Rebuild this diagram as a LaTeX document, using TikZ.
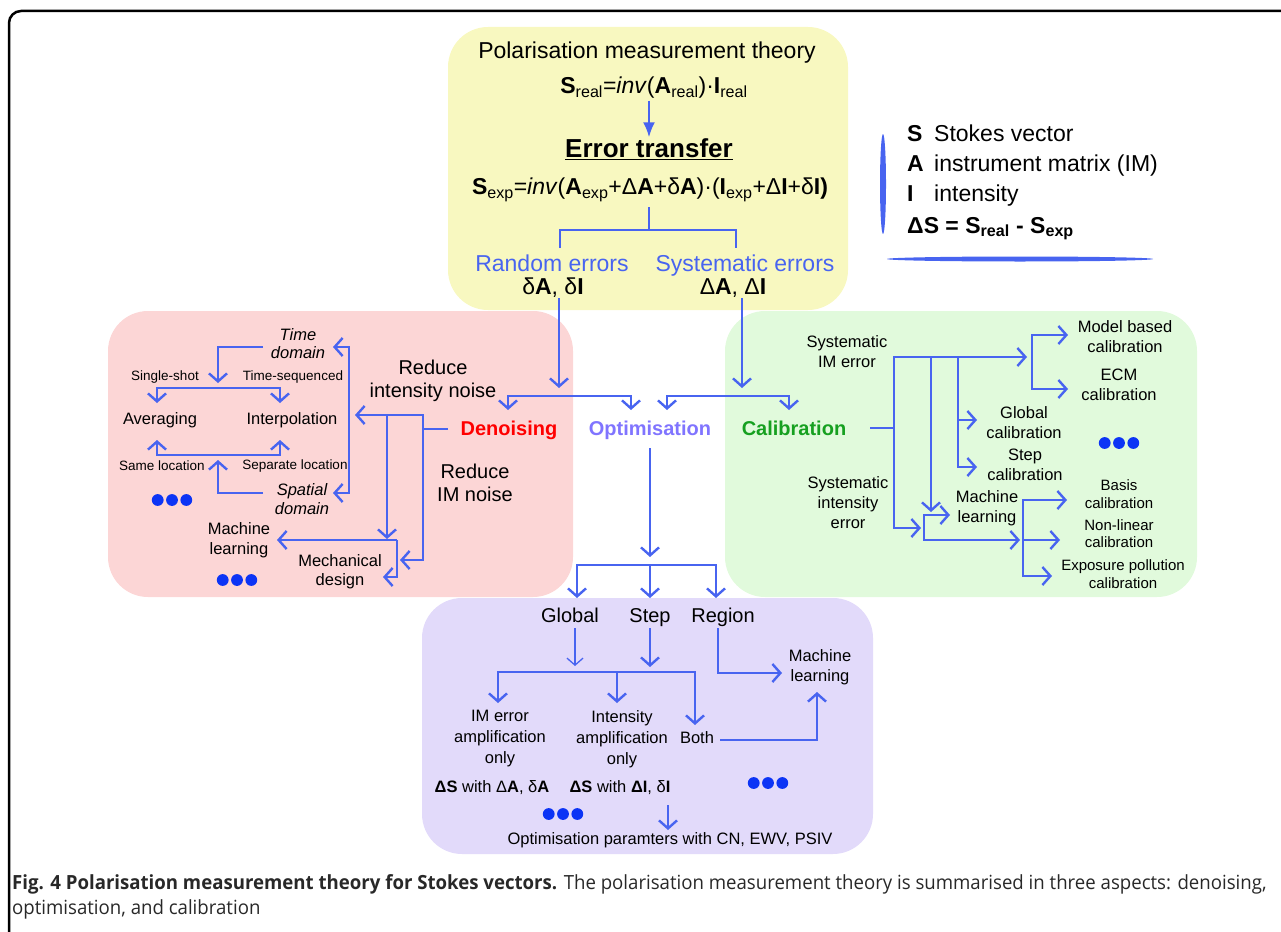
\documentclass[tikz,border=0pt]{standalone}
\usepackage{fontspec}
\setmainfont{Liberation Sans}
\newfontfamily\capfont[FakeStretch=0.955]{Open Sans}
\usetikzlibrary{arrows.meta,positioning}

\definecolor{lineblue}{RGB}{72,100,240}
\definecolor{dotblue}{RGB}{12,52,245}
\definecolor{optpurple}{RGB}{128,116,255}
\definecolor{calgreen}{RGB}{22,160,32}
\definecolor{boxyellow}{RGB}{248,248,192}
\definecolor{boxred}{RGB}{252,214,214}
\definecolor{boxgreen}{RGB}{225,250,220}
\definecolor{boxpurple}{RGB}{226,218,250}
\definecolor{captext}{RGB}{40,40,40}

\tikzset{
  conn/.style={draw=lineblue, line width=2.4pt, -{Straight Barb[length=8pt,width=18pt]}},
  thinconn/.style={draw=lineblue, line width=1.3pt, -{Straight Barb[length=7pt,width=16pt]}},
  plain/.style={draw=lineblue, line width=2.4pt},
  panel/.style={rounded corners=40pt},
  lbl/.style={align=center, inner sep=0pt, font=\fontsize{16.5}{20}\selectfont},
  smalllbl/.style={align=center, inner sep=0pt, font=\fontsize{13.5}{16}\selectfont},
  callbl/.style={align=center, inner sep=0pt, font=\fontsize{15}{18}\selectfont},
  midlbl/.style={align=center, inner sep=0pt, anchor=base, font=\fontsize{20}{23}\selectfont},
  biglbl/.style={align=center, inner sep=0pt, font=\fontsize{23}{27}\selectfont},
  aspect/.style={inner sep=0pt, anchor=base, font=\bfseries\fontsize{20}{24}\selectfont},
  pics/threedots/.style={code={\foreach \k in {-1,0,1} \fill[dotblue] (\k*14.3,0) circle (5.9pt);}}
}

\begin{document}
\begin{tikzpicture}[x=1pt, y=-1pt]
\useasboundingbox (0,0) rectangle (1281,931);
\draw[line width=2.5pt, rounded corners=12pt] (9,945) -- (9,11) -- (1295,11);

% panels
\fill[boxyellow, panel] (448,27) rectangle (848,310);
\fill[boxred, panel] (108,311) rectangle (573,597);
\fill[boxgreen, panel] (725,311) rectangle (1197,597);
\fill[boxpurple, panel] (422,598) rectangle (873,854);

% theory
\node[biglbl] (theory) at (647,53) {Polarisation measurement theory};
\node[biglbl] (sreal) at (654,88) {\textbf{S}\textsubscript{real}=\textit{inv}(\textbf{A}\textsubscript{real})·\textbf{I}\textsubscript{real}};
\node[inner sep=0pt, font=\bfseries\fontsize{26}{30}\selectfont] (errtrans) at (649,149) {\underline{Error transfer}};
\node[biglbl] (sexp) at (650,190) {\textbf{S}\textsubscript{exp}=\textit{inv}(\textbf{A}\textsubscript{exp}+Δ\textbf{A}+δ\textbf{A})·(\textbf{I}\textsubscript{exp}+Δ\textbf{I}+δ\textbf{I)}};
\node[biglbl, anchor=base, text=lineblue] (randerr) at (552,271) {Random errors};
\node[biglbl, anchor=base, text=lineblue] (syserr) at (745,271) {Systematic errors};
\node[biglbl] (randsym) at (553,288) {δ\textbf{A}, δ\textbf{I}};
\node[biglbl] (syssym) at (733,288) {Δ\textbf{A}, Δ\textbf{I}};

\draw[draw=lineblue, fill=lineblue, line width=2pt, -{Latex[length=15pt,width=12pt]}]
  (sreal.south -| errtrans.north) ++(0,2) -- ([yshift=1pt]errtrans.north);

% legend
\fill[lineblue] (883,184) ellipse (3pt and 50pt);
\fill[lineblue] (1020,259) ellipse (133pt and 2.5pt);
\node[anchor=base west, inner sep=0pt, font=\bfseries\fontsize{23}{27}\selectfont] (symS) at (907,141) {S};
\node[anchor=base west, inner sep=0pt, font=\fontsize{23}{27}\selectfont] (descS) at (934,141) {Stokes vector};
\node[anchor=base west, inner sep=0pt, font=\bfseries\fontsize{23}{27}\selectfont] (symA) at (907,171) {A};
\node[anchor=base west, inner sep=0pt, font=\fontsize{23}{27}\selectfont] (descA) at (934,171) {instrument matrix (IM)};
\node[anchor=base west, inner sep=0pt, font=\bfseries\fontsize{23}{27}\selectfont] (symI) at (907,201) {I};
\node[anchor=base west, inner sep=0pt, font=\fontsize{23}{27}\selectfont] (descI) at (934,201) {intensity};
\node[anchor=base west, inner sep=0pt, font=\bfseries\fontsize{23}{27}\selectfont] (symdS) at (907,233) {ΔS = S\textsubscript{real} - S\textsubscript{exp}};

% error split
\coordinate (eqfoot) at (649,207);
\coordinate (fork) at (649,230);
\coordinate (randleg) at (560,248);
\coordinate (sysleg) at (736,248);
\draw[plain] (eqfoot) -- (fork);
\draw[plain] (randleg) |- (fork) -| (sysleg);

\coordinate (randout) at (559,298);
\coordinate (sysout) at (742,298);
\coordinate (denbar) at (559,396);
\coordinate (calbar) at (742,396);
\draw[conn, shorten >=8pt] (randout) -- (denbar);
\draw[conn, shorten >=8pt] (sysout) -- (calbar);

% three aspects
\node[aspect, text=red] (denoise) at (509,435) {Denoising};
\node[aspect, text=optpurple] (optim) at (650,435) {Optimisation};
\node[aspect, text=calgreen] (calib) at (794,435) {Calibration};
\coordinate (denin) at (508,410);
\coordinate (optinl) at (631,410);
\coordinate (optinr) at (667,410);
\coordinate (calin) at (789,410);
\draw[conn] (denbar) -| (denin);
\draw[conn] (denbar) -| (optinl);
\draw[conn] (calbar) -| (optinr);
\draw[conn] (calbar) -| (calin);

% denoising panel
\node[lbl, font=\itshape\fontsize{16.5}{18}\selectfont] (timedom) at (298,344) {Time\\domain};
\node[smalllbl] (single) at (165,377) {Single-shot};
\node[smalllbl] (timeseq) at (293,377) {Time-sequenced};
\node[lbl] (averaging) at (160,420) {Averaging};
\node[lbl] (interp) at (292,420) {Interpolation};
\node[smalllbl] (sameloc) at (162,466) {Same location};
\node[smalllbl] (seploc) at (295,466) {Separate location};
\node[lbl, font=\itshape\fontsize{16.5}{19}\selectfont] (spacedom) at (302,499) {Spatial\\domain};
\node[lbl] (mlred) at (239,540) {Machine\\learning};
\node[lbl, font=\fontsize{16.5}{19}\selectfont] (mech) at (340,572) {Mechanical\\design};
\node[midlbl, anchor=center] (redint) at (433,381) {Reduce\\intensity noise};
\node[midlbl, anchor=center] (redim) at (475,483) {Reduce\\IM noise};
\pic (reddotsa) at (172,500) {threedots};
\pic (reddotsb) at (237,580) {threedots};

\coordinate (denout) at (448,429);
\coordinate (dentrunk) at (423,429);
\coordinate (tsin) at (355,415);
\coordinate (mechina) at (400,560);
\coordinate (intsplit) at (387,415);
\coordinate (mlsplitred) at (387,540);
\coordinate (mlcorner) at (397,540);
\coordinate (mlredin) at (277,540);
\coordinate (mechinb) at (383,577);
\draw[plain] (denout) -- (dentrunk);
\draw[conn] (dentrunk) |- (tsin);
\draw[conn] (dentrunk) |- (mechina);
\draw[conn] (intsplit) -- ([yshift=1pt]mlsplitred);
\draw[conn] (mlcorner) -- (mlredin);
\draw[conn] (mlcorner) |- (mechinb);

\coordinate (tsbus) at (349,420);
\coordinate (timein) at (333,347);
\coordinate (spacein) at (333,493);
\draw[conn] (tsbus) |- (timein);
\draw[conn] (tsbus) |- (spacein);

\coordinate (timeout) at (263,347);
\coordinate (tdrop) at (218,388);
\coordinate (avgin) at (157,403);
\coordinate (interpin) at (280,403);
\draw[conn, shorten >=5pt] (timeout) -| (tdrop);
\draw[conn] (tdrop) -| (avgin);
\draw[conn] (tdrop) -| (interpin);

\coordinate (spaceout) at (263,493);
\coordinate (sdrop) at (218,455);
\coordinate (avgup) at (157,440);
\coordinate (interpup) at (280,440);
\draw[conn, shorten >=5pt] (spaceout) -| (sdrop);
\draw[conn] (sdrop) -| (avgup);
\draw[conn] (sdrop) -| (interpup);

% calibration panel
\node[lbl] (sysim) at (847,352) {Systematic\\IM error};
\node[lbl] (sysint) at (848,503) {Systematic\\intensity\\error};
\node[lbl] (modelcal) at (1125,337) {Model based\\calibration};
\node[lbl] (ecmcal) at (1119,385) {ECM\\calibration};
\node[lbl] (globcal) at (1024,423) {Global\\calibration};
\node[lbl] (stepcal) at (1025,465) {Step\\calibration};
\node[lbl] (mlgreen) at (987,508) {Machine\\learning};
\node[callbl] (basiscal) at (1119,494) {Basis\\calibration};
\node[callbl, font=\fontsize{15}{17}\selectfont] (nonlincal) at (1119,534) {Non-linear\\calibration};
\node[callbl] (expcal) at (1123,574) {Exposure pollution\\calibration};
\pic (greendots) at (1119,443) {threedots};

\coordinate (calout) at (870,428);
\coordinate (caltrunk) at (894,428);
\coordinate (modelbus) at (1027,357);
\coordinate (mlboxin) at (921,528);
\coordinate (mlsplit) at (931,357);
\coordinate (mlsplitin) at (931,512);
\coordinate (globsplit) at (958,357);
\coordinate (globin) at (977,420);
\coordinate (stepcin) at (977,467);
\draw[plain] (calout) -- (caltrunk);
\draw[conn] (caltrunk) |- (modelbus);
\draw[conn] (caltrunk) |- (mlboxin);
\draw[conn] (mlsplit) -- (mlsplitin);
\draw[conn] (globsplit) |- (globin);
\draw[conn] (globsplit) |- (stepcin);

\coordinate (modelmid) at (1032,357);
\coordinate (modelin) at (1068,335);
\coordinate (ecmin) at (1068,389);
\draw[conn] (modelmid) |- (modelin);
\draw[conn] (modelmid) |- (ecmin);

\coordinate (mlbox) at (924,528);
\coordinate (mlgreenin) at (950,515);
\coordinate (basisbus) at (1020,540);
\draw[conn] (mlbox) |- (mlgreenin);
\draw[conn] (mlbox) |- (basisbus);

\coordinate (basismid) at (1023,540);
\coordinate (basisin) at (1067,500);
\coordinate (nonlinin) at (1060,540);
\coordinate (expin) at (1052,576);
\draw[conn] (basismid) |- (basisin);
\draw[conn] (basismid) -- (nonlinin);
\draw[conn] (basismid) |- (expin);

% optimisation panel
\coordinate (optfoot) at (650,448);
\coordinate (optbar) at (650,565);
\coordinate (glbin) at (577,598);
\coordinate (stepin) at (650,598);
\coordinate (regin) at (716,598);
\draw[conn, shorten >=8pt] (optfoot) -- (optbar);
\draw[conn] (optbar) -| (glbin);
\draw[conn] (optbar) -- (stepin);
\draw[conn] (optbar) -| (regin);

\node[midlbl] (global) at (570,622) {Global};
\node[midlbl] (step) at (650,622) {Step};
\node[midlbl] (region) at (723,622) {Region};
\node[lbl] (mlpurple) at (820,667) {Machine\\learning};
\node[lbl, font=\fontsize{16.5}{21}\selectfont] (imonly) at (500,739) {IM error\\amplification\\only};
\node[lbl, font=\fontsize{16.5}{21}\selectfont] (intonly) at (622,739) {Intensity\\amplification\\only};
\node[lbl] (both) at (697,738) {Both};
\node[lbl] (dsa) at (492,788) {\textbf{ΔS} with Δ\textbf{A}, δ\textbf{A}};
\node[lbl] (dsi) at (620,788) {\textbf{ΔS} with \textbf{ΔI}, δ\textbf{I}};
\node[lbl] (params) at (670,840) {Optimisation paramters with CN, EWV, PSIV};
\pic (purpledotsa) at (563,814) {threedots};
\pic (purpledotsb) at (768,783) {threedots};

\coordinate (globout) at (575,628);
\coordinate (stepout) at (650,628);
\coordinate (pbar) at (617,672);
\draw[thinconn, shorten >=6pt] (globout) -- (globout |- pbar);
\draw[conn, shorten >=5pt] (stepout) -- (stepout |- pbar);
\coordinate (imin) at (498,703);
\coordinate (intin) at (617,703);
\coordinate (bothin) at (695,725);
\draw[conn] (pbar) -| (imin);
\draw[conn] (pbar) -- (intin);
\draw[conn] (pbar) -| (bothin);

\coordinate (regout) at (718,628);
\coordinate (mlpin) at (782,673);
\coordinate (bothout) at (720,740);
\coordinate (mlpfoot) at (817,692);
\draw[conn] (regout) |- (mlpin);
\draw[conn] (bothout) -| (mlpfoot);

\coordinate (paramtop) at (668,805);
\coordinate (paramin) at (668,830);
\draw[conn] (paramtop) -- (paramin);

% caption
\node[anchor=base west, inner sep=0pt, text=captext, font=\capfont\fontsize{19.5}{23}\selectfont] (capa) at (12,889)
  {\textbf{Fig. 4 Polarisation measurement theory for Stokes vectors.} The polarisation measurement theory is summarised in three aspects: denoising,};
\node[anchor=base west, inner sep=0pt, text=captext, font=\capfont\fontsize{19.5}{23}\selectfont] (capb) at (12,914)
  {optimisation, and calibration};
\end{tikzpicture}
\end{document}
